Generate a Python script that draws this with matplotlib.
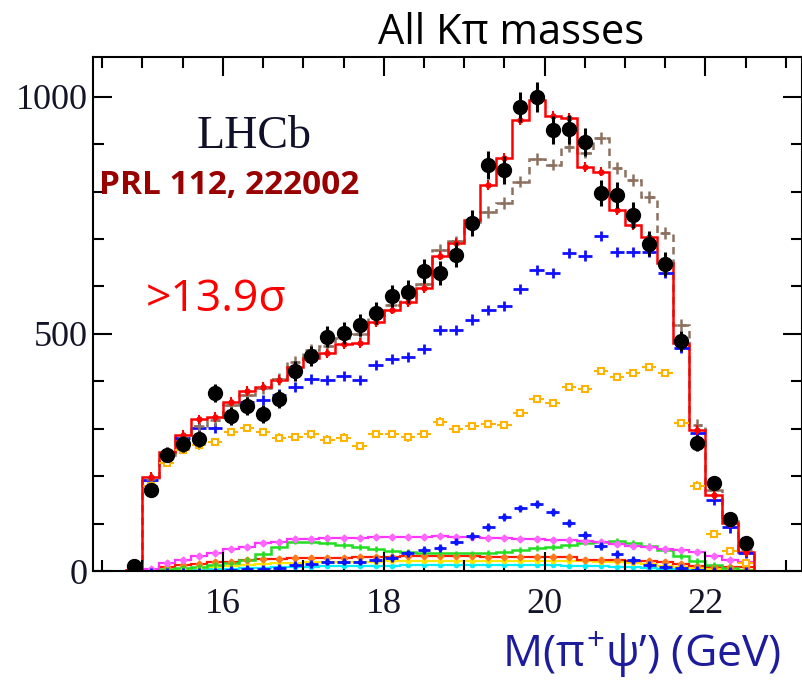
import numpy as np
import matplotlib
matplotlib.use("Agg")
import matplotlib.pyplot as plt
from matplotlib.ticker import MultipleLocator

# bin grid of the mass spectrum (GeV), 0.2 wide bins
bin_centers = np.round(np.arange(14.9, 22.51, 0.2), 1)
bin_edges = np.round(np.arange(14.8, 22.61, 0.2), 1)

# data points (candidates per bin)
data_counts = [10, 171, 245, 268, 278, 376, 327, 348, 331, 363,
               422, 453, 494, 502, 519, 544, 580, 589, 633, 629,
               667, 734, 857, 846, 979, 1000, 930, 932, 905, 797,
               793, 751, 690, 648, 485, 270, 186, 110, 59]

# total fit with Z(4430) (red) and without (brown dashed)
fit_total = [3, 199, 250, 287, 320, 325, 357, 380, 389, 403,
             431, 449, 459, 479, 481, 525, 551, 567, 597, 665,
             692, 740, 814, 871, 951, 994, 960, 955, 852, 842,
             761, 730, 705, 650, 481, 297, 160, 101, 40]
fit_no_z = [3, 195, 245, 280, 305, 318, 350, 372, 385, 405,
            441, 466, 475, 492, 500, 535, 560, 578, 605, 677,
            695, 735, 757, 776, 821, 869, 857, 895, 882, 913,
            850, 825, 789, 713, 519, 308, 170, 105, 45]

# fit components
comp_blue = [0, 192, 245, 280, 301, 301, 330, 356, 361, 372,
             388, 405, 403, 411, 403, 435, 447, 451, 468, 508,
             508, 530, 551, 559, 595, 635, 629, 671, 665, 707,
             673, 673, 673, 629, 470, 291, 150, 92, 38]
comp_gold = [0, 180, 228, 255, 265, 272, 293, 302, 293, 281,
             283, 288, 277, 281, 264, 289, 289, 282, 289, 315,
             299, 306, 310, 308, 333, 363, 354, 388, 384, 422,
             409, 418, 430, 418, 312, 180, 78, 42, 17]
comp_magenta = [0, 5, 16, 23, 32, 39, 46, 51, 58, 62,
                67, 67, 69, 70, 70, 71, 71, 72, 72, 73,
                72, 71, 70, 69, 68, 67, 66, 65, 63, 61,
                57, 52, 50, 47, 44, 40, 32, 23, 19]
comp_green = [0, 2, 4, 6, 9, 12, 16, 24, 36, 51,
              62, 62, 60, 55, 51, 46, 43, 41, 39, 37,
              37, 37, 39, 41, 44, 48, 51, 55, 60, 62,
              63, 60, 52, 44, 32, 21, 13, 6, 3]
comp_orange = [0, 3, 8, 12, 15, 18, 20, 23, 25, 26,
               27, 27, 28, 28, 29, 29, 30, 31, 31, 31,
               31, 31, 30, 30, 30, 30, 30, 29, 24, 23,
               23, 22, 21, 20, 14, 11, 9, 9, 8]
comp_yellow = [0, 1, 3, 5, 7, 9, 11, 13, 15, 16,
               17, 18, 19, 20, 20, 20, 21, 21, 21, 22,
               22, 22, 22, 22, 22, 22, 22, 21, 21, 20,
               18, 16, 14, 11, 8, 6, 4, 3, 2]
comp_cyan = [0, 0, 1, 2, 3, 4, 5, 6, 7, 8,
             9, 9, 10, 10, 11, 11, 11, 12, 12, 12,
             12, 12, 12, 12, 12, 12, 12, 11, 11, 10,
             9, 8, 6, 5, 4, 3, 2, 1, 1]
comp_z = [0, -2, -2, -2, -2, -1, 2, 4, 5, 7,
          13, 15, 20, 20, 20, 23, 27, 37, 44, 48,
          62, 74, 93, 114, 132, 141, 125, 101, 76, 53,
          36, 23, 13, 8, 6, 2, 1, 1, 0]

plt.rcParams["mathtext.fontset"] = "custom"
plt.rcParams["mathtext.rm"] = "Open Sans"
plt.rcParams["mathtext.it"] = "Open Sans"
plt.rcParams["mathtext.bf"] = "Open Sans:bold"

W, H = 803, 681
fig = plt.figure(figsize=(W / 100, H / 100), dpi=100)
ax = fig.add_axes([93 / W, 1 - 571 / H, (802 - 93) / W, (571 - 57) / H])

hw = 0.1  # half bin width for horizontal bars

# small components at the bottom
ax.stairs(comp_cyan, bin_edges, color="#00eeff", lw=1.6, baseline=None)
ax.plot(bin_centers, comp_cyan, "o", color="#00eeff", ms=3)
ax.stairs(comp_yellow, bin_edges, color="#ffe600", lw=1.6, baseline=None)
ax.plot(bin_centers, comp_yellow, "o", color="#ffe600", ms=3)
ax.stairs(comp_orange, bin_edges, color="#ff1a00", lw=1.6, baseline=None)
ax.plot(bin_centers, comp_orange, "D", color="#ff7a1a", ms=3.5)
ax.stairs(comp_green, bin_edges, color="#22dd22", lw=1.8, baseline=None)
ax.errorbar(bin_centers, comp_green, yerr=6, fmt="none", ecolor="#22dd22", lw=1.8)
ax.stairs(comp_magenta, bin_edges, color="#ff33ff", lw=1.6, baseline=None)
ax.plot(bin_centers, comp_magenta, "D", color="#ff66ff", ms=3.5)
ax.errorbar(bin_centers, comp_z, xerr=hw * 0.8, yerr=8, fmt="o", ms=3,
            color="#0a14ff", lw=2)

# big components
ax.errorbar(bin_centers, comp_gold, xerr=hw * 0.9, yerr=9, fmt="s", ms=5,
            mfc="white", mec="#ffb400", ecolor="#ffb400", mew=1.5, lw=1.5)
ax.errorbar(bin_centers, comp_blue, xerr=hw * 0.9, yerr=11, fmt="none",
            ecolor="#1010ff", lw=2)

# fits
ax.stairs(fit_no_z, bin_edges, color="#8c7060", lw=1.8, ls=(0, (3, 2)))
ax.errorbar(bin_centers, fit_no_z, xerr=hw * 0.6, yerr=12, fmt="none",
            ecolor="#8c7060", lw=1.8)
ax.stairs(fit_total, bin_edges, color="#ff0000", lw=1.8)
ax.errorbar(bin_centers, fit_total, yerr=10, fmt="o", ms=3.5, color="#ff0000", lw=1.5)

# data
ax.errorbar(bin_centers, data_counts, yerr=np.sqrt(data_counts), fmt="o", ms=10,
            color="black", ecolor="black", elinewidth=2.2, capsize=0, zorder=10)

ax.set_xlim(14.385, 23.2)
ax.set_ylim(0, 1084)

ax.xaxis.set_major_locator(MultipleLocator(2))
ax.xaxis.set_minor_locator(MultipleLocator(0.5))
ax.yaxis.set_major_locator(MultipleLocator(500))
ax.yaxis.set_minor_locator(MultipleLocator(100))
ax.tick_params(which="both", direction="in", top=True, right=True, width=1.5,
               colors="black", labelsize=26, labelcolor="#141428")
ax.tick_params(which="major", length=13.5)
ax.tick_params(which="minor", length=8)
ax.tick_params(axis="x", pad=12)
ax.tick_params(axis="y", pad=4)
for lab in ax.get_xticklabels() + ax.get_yticklabels():
    lab.set_family("Liberation Serif")
for sp in ax.spines.values():
    sp.set_linewidth(1.5)

sans = ["Open Sans", "DejaVu Sans"]
fig.text(511 / W, 1 - 33 / H, "All K\u03c0 masses", family=sans, fontsize=30,
         ha="center", va="center", color="black")
fig.text(254 / W, 1 - 137 / H, "LHCb", family="Liberation Serif", fontsize=33,
         ha="center", va="center", color="#10102a")
fig.text(229 / W, 1 - 185 / H, "PRL 112, 222002", family=sans, fontsize=24,
         fontweight="bold", ha="center", va="center", color="#990000")
fig.text(216 / W, 1 - 300 / H, ">13.9\u03c3", family=sans, fontsize=32,
         ha="center", va="center", color="#ff0000")
fig.text(642 / W, 1 - 655 / H, "M($\\pi^{+}\\psi$\u2019) (GeV)", family=sans,
         fontsize=32, ha="center", va="center", color="#1c1c9c")

fig.savefig("out.png", dpi=100)
